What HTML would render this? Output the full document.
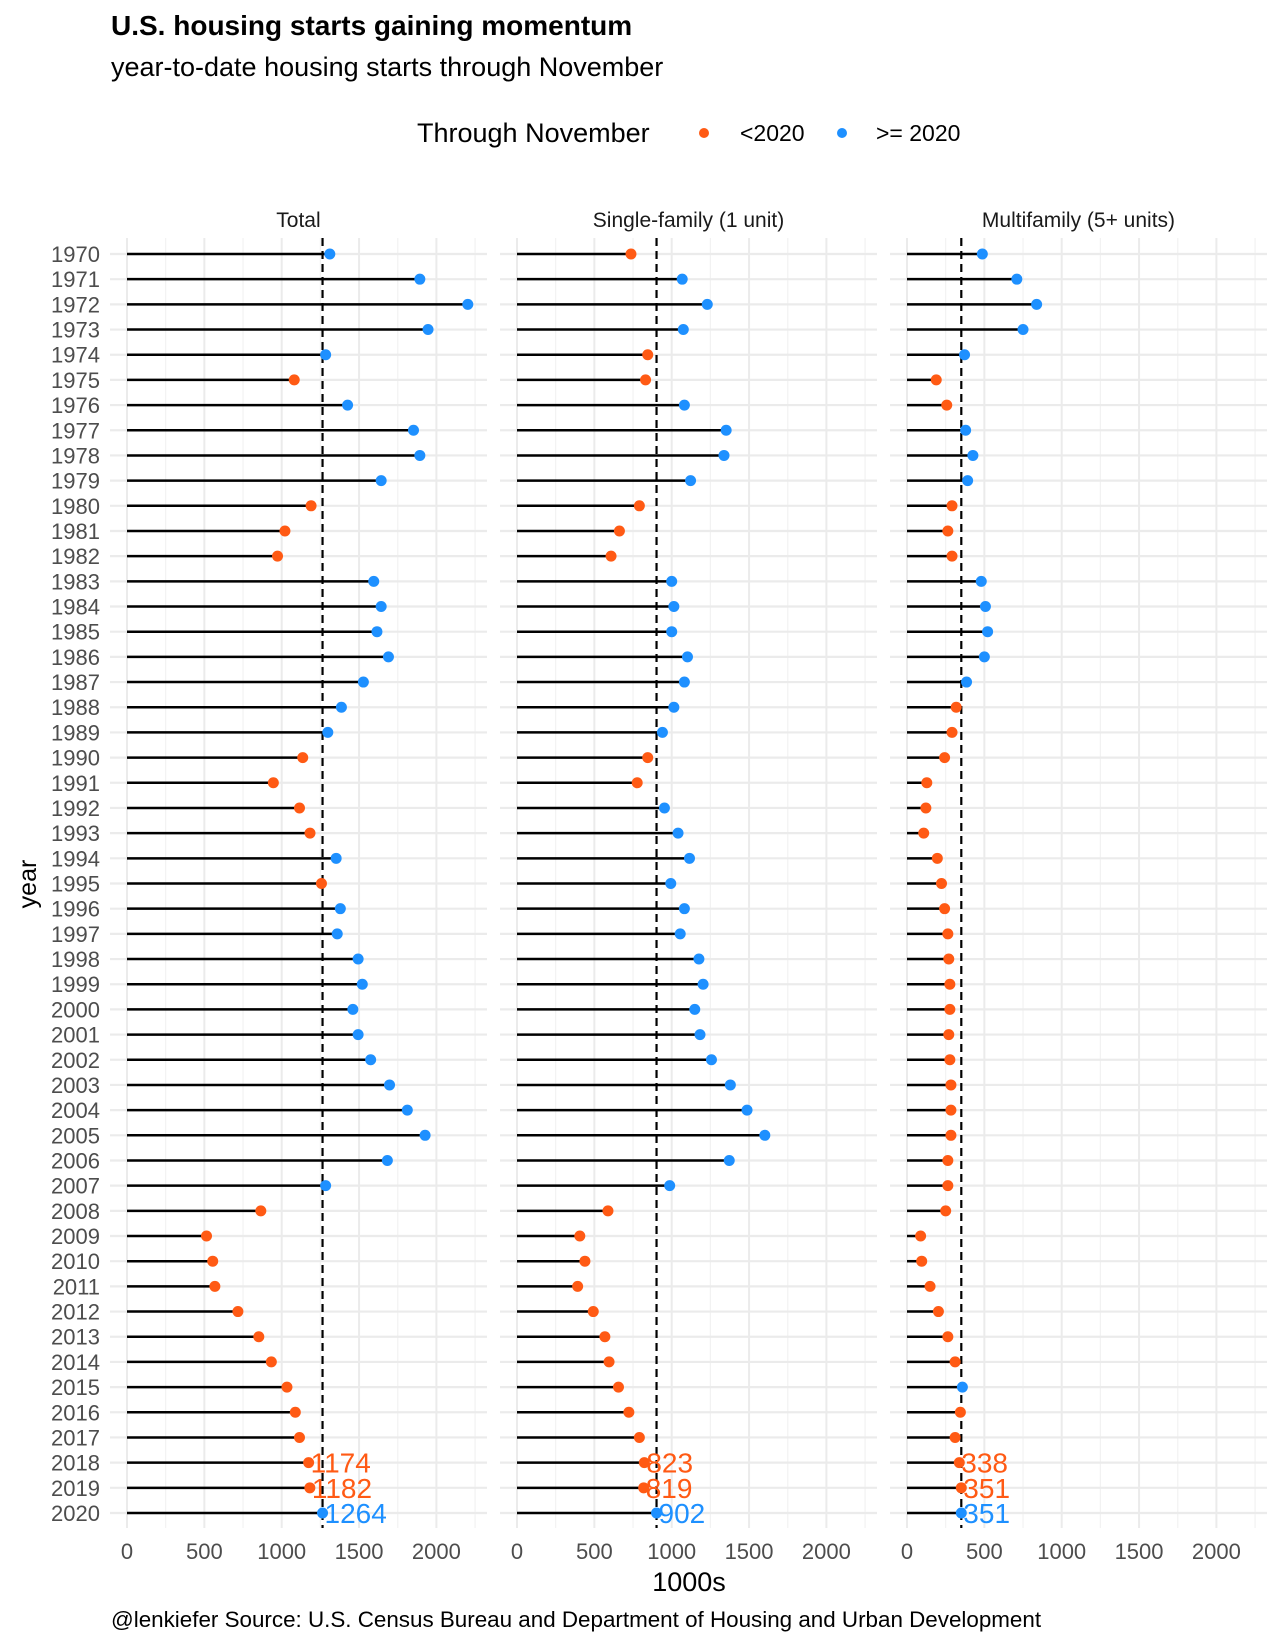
<!DOCTYPE html>
<html><head><meta charset="utf-8"><style>
body{margin:0;background:#fff;}
svg{display:block;font-family:"Liberation Sans",Arial,sans-serif;}
</style></head><body>
<svg id="chart" width="1280" height="1645" viewBox="0 0 1280 1645" xmlns="http://www.w3.org/2000/svg">
<text x="111" y="35" font-size="28" font-weight="bold" fill="#000">U.S. housing starts gaining momentum</text>
<text x="111" y="76" font-size="27" fill="#000">year-to-date housing starts through November</text>
<g>
<text x="417" y="142" font-size="27" fill="#000">Through November</text>
<circle cx="704" cy="133" r="5" fill="#FF5A14"/>
<text x="740" y="141" font-size="23" fill="#000">&lt;2020</text>
<circle cx="842" cy="133" r="5" fill="#1E90FF"/>
<text x="876" y="141" font-size="23" fill="#000">&gt;= 2020</text>
</g>
<g id="plots"></g>
<text x="689" y="1591" font-size="27" text-anchor="middle" fill="#000">1000s</text>
<text x="0" y="0" font-size="25" text-anchor="middle" fill="#000" transform="translate(36,884) rotate(-90)">year</text>
<text x="111" y="1627" font-size="22.4" fill="#000">@lenkiefer Source: U.S. Census Bureau and Department of Housing and Urban Development</text>
</svg>
<script>
const years=[];for(let y=1970;y<=2020;y++)years.push(y);
const panelNames=["Total","Single-family (1 unit)","Multifamily (5+ units)"];
const totalValues=[1311,1893,2203,1946,1284,1081,1426,1852,1893,1643,1190,1021,973,1595,1643,1616,1690,1528,1386,1298,1136,946,1115,1183,1352,1257,1379,1359,1494,1521,1460,1494,1575,1697,1812,1927,1683,1284,865,514,554,568,717,852,933,1034,1088,1115,1174,1182,1264];
const singleValues=[737,1068,1230,1075,845,831,1082,1352,1338,1122,791,662,608,1000,1014,1000,1102,1082,1014,940,845,777,953,1041,1115,994,1082,1055,1176,1203,1149,1183,1257,1379,1487,1602,1372,987,588,406,439,392,493,568,595,656,723,791,823,819,902];
const multiValues=[487,710,838,750,372,189,257,379,426,392,291,264,291,480,507,521,500,385,318,291,243,128,122,108,196,223,243,264,270,277,277,270,277,284,284,284,264,264,250,88,95,149,203,264,311,358,345,311,338,351,351];
const xTicks=[0,500,1000,1500,2000];
const labelYears=[2018,2019,2020];

const NS="http://www.w3.org/2000/svg";
const plotG=document.getElementById('plots');
const seriesList=[totalValues,singleValues,multiValues];
const zeroPx=[127,517,907];
const pxPerUnit=0.1547;
const panelTop=238,panelBottom=1528,rowY0=254,rowStep=(1513-254)/50;
function yPos(yr){return rowY0+(yr-1970)*rowStep;}
function mk(tag,attrs){const e=document.createElementNS(NS,tag);for(const a in attrs)e.setAttribute(a,attrs[a]);plotG.appendChild(e);return e;}
years.forEach(yr=>{
  const t=mk('text',{x:100,y:yPos(yr)+8,'font-size':22,'text-anchor':'end',fill:'#4d4d4d'});
  t.textContent=yr;
  
  
});
seriesList.forEach((vals,p)=>{
  const x0=zeroPx[p];
  const xs=v=>x0+v*pxPerUnit;
  const left=xs(-110),right=xs(2327);
  for(let v=0;v<=2250;v+=250){
    const l=mk('line',{x1:xs(v),x2:xs(v),y1:panelTop,y2:panelBottom,stroke:v%500===0?'#ebebeb':'#f2f2f2','stroke-width':v%500===0?2:1.2});
    
    
  }
  years.forEach(yr=>{
    const l=mk('line',{x1:left,x2:right,y1:yPos(yr),y2:yPos(yr),stroke:'#ebebeb','stroke-width':2.2});
    
    
  });
  const s=mk('text',{x:(left+right)/2,y:227,'font-size':21,'text-anchor':'middle',fill:'#1a1a1a'});
  s.textContent=panelNames[p];
  
  
  xTicks.forEach(v=>{
    const t=mk('text',{x:xs(v),y:1559,'font-size':22,'text-anchor':'middle',fill:'#4d4d4d'});
    t.textContent=v;
    
    
  });
  const ref=vals[vals.length-1];
  years.forEach((yr,i)=>{
    const l=mk('line',{x1:xs(0),x2:xs(vals[i]),y1:yPos(yr),y2:yPos(yr),stroke:'#000','stroke-width':2.5});
    
    
  });
  const d=mk('line',{x1:xs(ref),x2:xs(ref),y1:panelTop,y2:panelBottom,stroke:'#000','stroke-width':2.2,'stroke-dasharray':'8,5'});
  
  
  years.forEach((yr,i)=>{
    const blue=(vals[i]>ref||yr===2020);
    const c=mk('circle',{cx:xs(vals[i]),cy:yPos(yr),r:5.5,fill:blue?'#1E90FF':'#FF5A14'});
    
    
    if(labelYears.includes(yr)){
      const t=mk('text',{x:xs(vals[i])+2,y:yPos(yr)+10,'font-size':28,fill:blue?'#1E90FF':'#FF5A14'});
      t.textContent=vals[i];
      
      
    }
  });
});
</script>
</body></html>
